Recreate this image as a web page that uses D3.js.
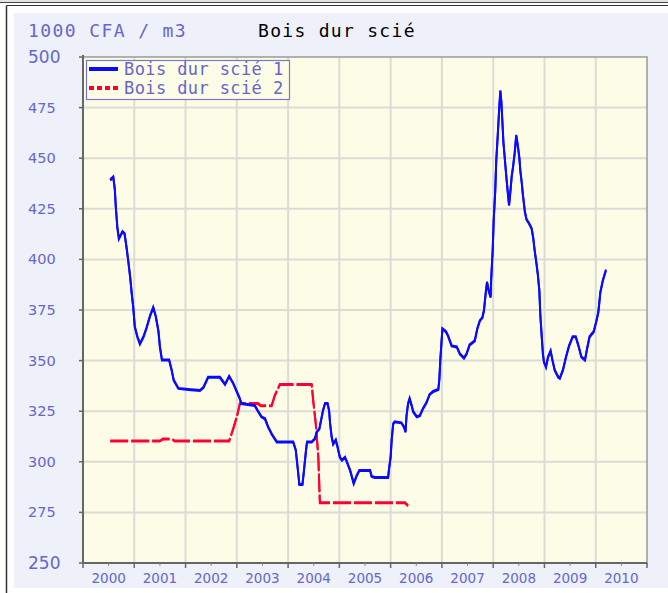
<!DOCTYPE html>
<html>
<head>
<meta charset="utf-8">
<script src="https://cdn.jsdelivr.net/npm/d3@7"></script>
<style>
  body { margin: 0; background: #fff; }
  svg { display: block; }
</style>
</head>
<body>
<div id="chart"></div>
<script>
// data (decimal years)
var years1 = [2000.53, 2000.59, 2000.62, 2000.64, 2000.67, 2000.70, 2000.77, 2000.81, 2000.85, 2000.88,
  2000.92, 2000.95, 2000.98, 2001.01, 2001.06, 2001.11, 2001.18, 2001.24, 2001.31, 2001.37,
  2001.42, 2001.47, 2001.50, 2001.54, 2001.68, 2001.73, 2001.77, 2001.86, 2002.05, 2002.28,
  2002.35, 2002.44, 2002.67, 2002.77, 2002.85, 2002.93, 2003.05, 2003.09, 2003.35, 2003.42,
  2003.48, 2003.55, 2003.61, 2003.68, 2003.78, 2004.10, 2004.15, 2004.20, 2004.22, 2004.28,
  2004.31, 2004.35, 2004.37, 2004.46, 2004.52, 2004.56, 2004.61, 2004.68, 2004.72, 2004.77,
  2004.80, 2004.82, 2004.85, 2004.88, 2004.93, 2004.96, 2005.01, 2005.05, 2005.11, 2005.15,
  2005.21, 2005.28, 2005.34, 2005.39, 2005.60, 2005.63, 2005.69, 2005.95, 2005.97, 2006.00,
  2006.02, 2006.05, 2006.08, 2006.21, 2006.26, 2006.29, 2006.31, 2006.34, 2006.37, 2006.41,
  2006.44, 2006.51, 2006.57, 2006.63, 2006.70, 2006.76, 2006.83, 2006.93, 2006.95, 2006.97,
  2007.01, 2007.08, 2007.12, 2007.19, 2007.29, 2007.35, 2007.43, 2007.48, 2007.54, 2007.64,
  2007.69, 2007.74, 2007.79, 2007.82, 2007.84, 2007.86, 2007.88, 2007.91, 2007.95, 2007.96,
  2007.99, 2008.01, 2008.04, 2008.06, 2008.09, 2008.12, 2008.14, 2008.16, 2008.18, 2008.20,
  2008.23, 2008.26, 2008.29, 2008.31, 2008.34, 2008.36, 2008.39, 2008.42, 2008.45, 2008.48,
  2008.51, 2008.53, 2008.56, 2008.58, 2008.62, 2008.65, 2008.70, 2008.75, 2008.78, 2008.81,
  2008.84, 2008.87, 2008.90, 2008.92, 2008.95, 2008.97, 2008.99, 2009.03, 2009.07, 2009.12,
  2009.16, 2009.20, 2009.27, 2009.30, 2009.36, 2009.42, 2009.48, 2009.55, 2009.61, 2009.67,
  2009.72, 2009.79, 2009.83, 2009.88, 2009.96, 2010.01, 2010.05, 2010.09, 2010.14, 2010.20];
var values1 = [439.5, 441, 435, 426, 416, 410.5, 414, 413, 406, 400,
  391.5, 383.5, 376.5, 367, 362, 358.5, 362, 366.5, 372.5, 376.5,
  372, 365, 357, 350.5, 350.5, 345.5, 340.5, 336.5, 336, 335.5,
  337, 342, 342, 338.5, 342.5, 339, 332, 329, 328, 325,
  322.5, 321.5, 317.5, 314, 310, 310, 306, 294, 289, 289,
  296, 306, 310, 310, 311.5, 315, 316.5, 325.5, 329, 329,
  325.5, 319, 312.5, 309, 311, 308, 302.5, 301, 302.5, 300,
  296, 289.5, 293.5, 296, 296, 293, 292.5, 292.5, 297, 302.5,
  311, 319, 320, 319.5, 317.5, 315, 323, 329, 331.5, 328,
  325, 322.5, 323, 326.5, 329.5, 333.5, 335, 336, 341, 351,
  366, 364.5, 362.5, 357.5, 357, 353.5, 351.5, 353.5, 358, 360,
  366, 370, 371.5, 375, 380, 385, 389, 385, 381.5, 390,
  404.5, 419.5, 434, 449, 462, 476, 483.5, 478, 468, 458,
  449, 440, 432, 427, 435, 441, 446.5, 453, 461.5, 456.5,
  450.5, 444, 437.5, 432, 423.5, 420, 418, 415.5, 411, 404.5,
  399, 393, 385, 372.5, 361, 353.5, 349.5, 347, 352, 355,
  350, 345.5, 342, 341.5, 345.5, 352, 357.5, 362, 362, 357,
  352, 350.5, 356, 362, 364.5, 369.5, 374, 384, 390, 395];

var years2 = [2000.53, 2001.50, 2001.56, 2001.73, 2001.79, 2002.85, 2002.93, 2003.00, 2003.06, 2003.41,
  2003.47, 2003.68, 2003.74, 2003.84, 2004.46, 2004.49, 2004.54, 2004.59, 2004.62, 2006.28, 2006.34];
var values2 = [310.5, 310.5, 311.5, 311.5, 310.5, 310.5, 316.5, 322.5, 329, 329,
  328, 328, 333, 338.5, 338.5, 330.5, 319, 302.5, 280, 280, 278.5];

var yearLabels = ["2000", "2001", "2002", "2003", "2004", "2005", "2006", "2007", "2008", "2009", "2010"];
var yTicks = [250, 275, 300, 325, 350, 375, 400, 425, 450, 475, 500];
var seriesNames = ["Bois dur scié 1", "Bois dur scié 2"];

function drawChart() {
  var W = 668, H = 593;
  var pLeft = 83, pRight = 647, pTop = 57, pBottom = 563;
  var tickColor = "#6666cc";

  var svg = d3.select("#chart").append("svg")
      .attr("width", W)
      .attr("height", H);

  // outer frame
  svg.append("rect").attr("x", 0).attr("y", 0).attr("width", W).attr("height", 2).attr("fill", "#e4e4e4");
  svg.append("line").attr("x1", 0).attr("x2", W).attr("y1", 2.5).attr("y2", 2.5).attr("stroke", "#444").attr("stroke-width", 1);
  svg.append("line").attr("x1", 6.5).attr("x2", W).attr("y1", 5.5).attr("y2", 5.5).attr("stroke", "#333").attr("stroke-width", 1);
  svg.append("line").attr("x1", 6.5).attr("x2", 6.5).attr("y1", 5.5).attr("y2", H).attr("stroke", "#333").attr("stroke-width", 1.5);

  // panel
  svg.append("rect").attr("x", 14).attr("y", 13).attr("width", W - 14).attr("height", 575).attr("fill", "#eef1fa");

  // plot background
  svg.append("rect").attr("x", pLeft).attr("y", pTop).attr("width", pRight - pLeft).attr("height", pBottom - pTop)
      .attr("fill", "#fdfce7");

  var x = d3.scaleLinear().domain([2000, 2011]).range([pLeft, pRight]);
  var y = d3.scaleLinear().domain([250, 500]).range([pBottom, pTop]);

  // grid
  var yearBounds = d3.range(2001, 2011);
  svg.append("g").selectAll("line").data(yearBounds).enter().append("line")
      .attr("x1", function(d) { return x(d); })
      .attr("x2", function(d) { return x(d); })
      .attr("y1", pTop).attr("y2", pBottom)
      .attr("stroke", "#dcdcd6").attr("stroke-width", 2);
  svg.append("g").selectAll("line").data(yTicks.slice(1, -1)).enter().append("line")
      .attr("x1", pLeft).attr("x2", pRight)
      .attr("y1", function(d) { return y(d); })
      .attr("y2", function(d) { return y(d); })
      .attr("stroke", "#dcdcd6").attr("stroke-width", 2);

  // plot border
  svg.append("rect").attr("x", pLeft).attr("y", pTop).attr("width", pRight - pLeft).attr("height", pBottom - pTop)
      .attr("fill", "none").attr("stroke", "#999").attr("stroke-width", 1.5);

  // x axis: year boundaries + mid year ticks
  var xAxis = svg.append("g").attr("transform", "translate(0," + pBottom + ")");
  xAxis.append("line").attr("x1", pLeft).attr("x2", pRight).attr("stroke", "#666").attr("stroke-width", 2);
  xAxis.selectAll(".maj").data(d3.range(2000, 2012)).enter().append("line")
      .attr("x1", function(d) { return x(d); }).attr("x2", function(d) { return x(d); })
      .attr("y1", 0).attr("y2", 5).attr("stroke", "#666").attr("stroke-width", 1.5);
  xAxis.selectAll(".min").data(yearLabels).enter().append("line")
      .attr("x1", function(d) { return x(+d + 0.5); }).attr("x2", function(d) { return x(+d + 0.5); })
      .attr("y1", 0).attr("y2", 3).attr("stroke", "#888").attr("stroke-width", 1);
  xAxis.selectAll("text").data(yearLabels).enter().append("text")
      .attr("x", function(d) { return x(+d + 0.5); })
      .attr("y", 20)
      .attr("text-anchor", "middle")
      .attr("font-family", "DejaVu Sans, sans-serif")
      .attr("font-size", 13.5)
      .attr("fill", tickColor)
      .text(function(d) { return d; });

  // y axis
  var yAxis = svg.append("g");
  yAxis.append("line").attr("x1", pLeft).attr("x2", pLeft).attr("y1", pTop - 2).attr("y2", pBottom)
      .attr("stroke", "#666").attr("stroke-width", 2);
  yAxis.selectAll("line.t").data(yTicks).enter().append("line")
      .attr("x1", pLeft - 4).attr("x2", pLeft)
      .attr("y1", function(d) { return y(d); }).attr("y2", function(d) { return y(d); })
      .attr("stroke", "#666").attr("stroke-width", 1.5);
  yAxis.selectAll("text").data(yTicks).enter().append("text")
      .attr("x", 28)
      .attr("y", function(d) { return y(d) + ((d == 250 || d == 500) ? 6 : 5); })
      .attr("font-family", "DejaVu Sans, sans-serif")
      .attr("font-size", function(d) { return (d == 250 || d == 500) ? 17 : 14.5; })
      .attr("fill", tickColor)
      .text(function(d) { return d; });

  // titles
  svg.append("text").attr("x", 28).attr("y", 37)
      .attr("font-family", "DejaVu Sans Mono, monospace").attr("font-size", 18)
      .attr("letter-spacing", 1.4)
      .attr("fill", tickColor).text("1000 CFA / m3");
  svg.append("text").attr("x", 258).attr("y", 37)
      .attr("font-family", "DejaVu Sans Mono, monospace").attr("font-size", 18)
      .attr("letter-spacing", 1.3)
      .attr("fill", "#000").text("Bois dur scié");

  // lines
  var line1 = d3.line()
      .x(function(d, i) { return x(years1[i]); })
      .y(function(d) { return y(d); });
  var line2 = d3.line()
      .x(function(d, i) { return x(years2[i]); })
      .y(function(d) { return y(d); });

  [0, 1].forEach(function(off) {
    svg.append("path").datum(values2)
        .attr("transform", "translate(0," + off + ")")
        .attr("d", line2)
        .attr("fill", "none")
        .attr("stroke", "#ff0033")
        .attr("stroke-width", 2)
        .attr("stroke-dasharray", "18,3");
  });
  [0, 1].forEach(function(off) {
    svg.append("path").datum(values1)
        .attr("transform", "translate(0," + off + ")")
        .attr("d", line1)
        .attr("fill", "none")
        .attr("stroke", "#0a0aff")
        .attr("stroke-width", 2);
  });

  // legend
  var lg = svg.append("g");
  lg.append("rect").attr("x", 86.5).attr("y", 60.5).attr("width", 203).attr("height", 39)
      .attr("fill", "#fdfce7").attr("stroke", "#7777cc").attr("stroke-width", 1.2);
  lg.append("line").attr("x1", 89).attr("x2", 118).attr("y1", 69).attr("y2", 69)
      .attr("stroke", "#0a0aff").attr("stroke-width", 4);
  lg.append("line").attr("x1", 89).attr("x2", 118).attr("y1", 88).attr("y2", 88)
      .attr("stroke", "#ff0033").attr("stroke-width", 4).attr("stroke-dasharray", "5,3");
  lg.selectAll("text").data(seriesNames).enter().append("text")
      .attr("x", 124)
      .attr("y", function(d, i) { return 75 + i * 19; })
      .attr("font-family", "DejaVu Sans Mono, monospace")
      .attr("font-size", 17)
      .attr("letter-spacing", 0.4)
      .attr("fill", tickColor)
      .text(function(d) { return d; });
}

drawChart();
</script>
</body>
</html>
